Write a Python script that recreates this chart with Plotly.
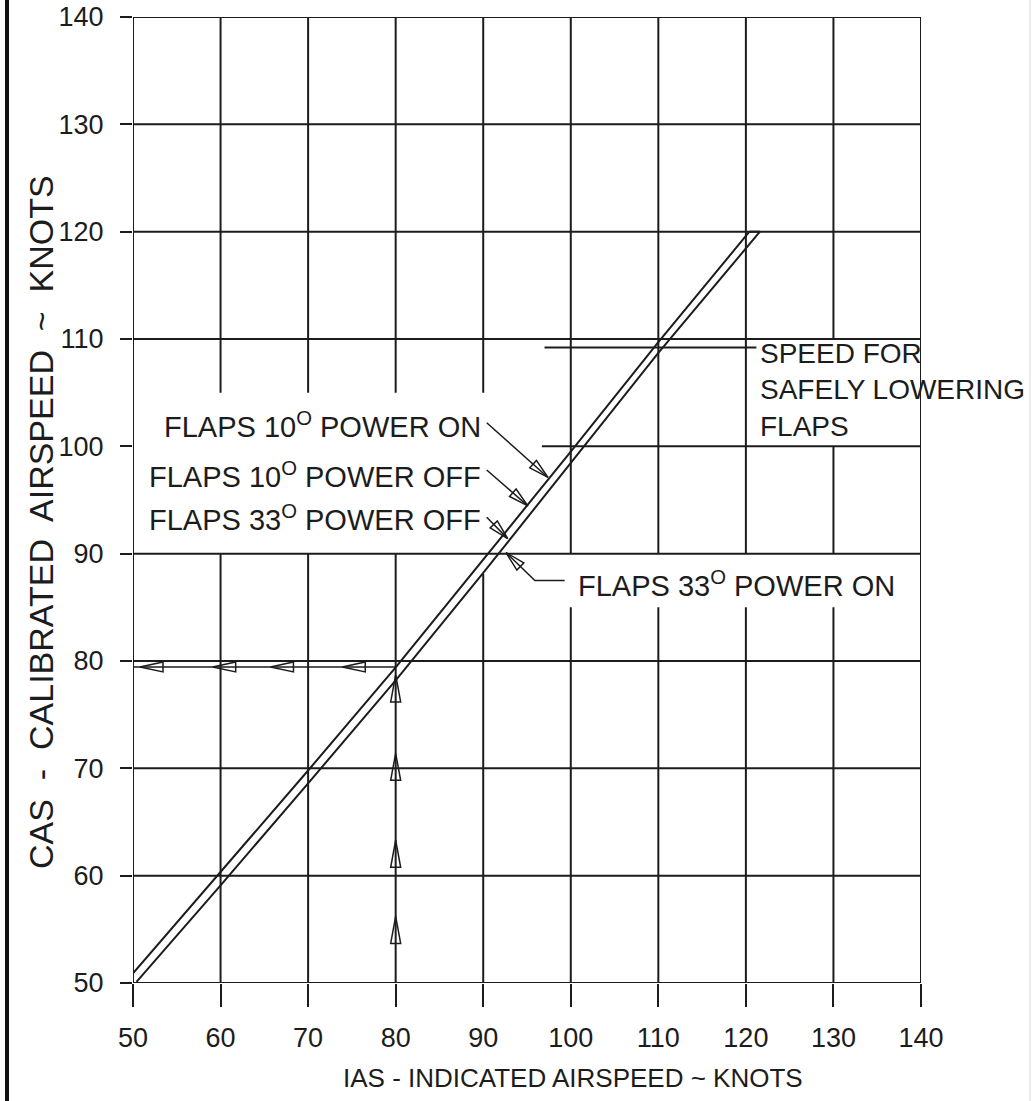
import plotly.graph_objects as go

# ---------------- data ----------------
ias_ticks = [50, 60, 70, 80, 90, 100, 110, 120, 130, 140]
cas_ticks = [50, 60, 70, 80, 90, 100, 110, 120, 130, 140]

# calibration curves (two parallel traces of the double line)
line_a_ias = [50.0, 60.0, 70.0, 80.0, 90.0, 100.0, 110.0, 120.4]
line_a_cas = [50.9, 60.3, 69.8, 79.4, 89.4, 99.5, 109.7, 120.0]
line_b_ias = [50.4, 60.0, 70.0, 80.0, 90.0, 100.0, 110.0, 121.6]
line_b_cas = [50.1, 59.1, 68.6, 78.2, 88.2, 98.4, 108.7, 120.0]

# example: IAS 80 -> CAS 79.4
example_ias = 80.0
example_cas = 79.45
h_arrow_tips_ias = [50.8, 59.1, 65.7, 73.9]
v_arrow_tips_cas = [56.2, 63.3, 71.4, 78.7]

# speed for safely lowering flaps
flap_speed_cas = 109.2

label_texts = [
    "FLAPS 10<sup>O</sup> POWER ON",
    "FLAPS 10<sup>O</sup> POWER OFF",
    "FLAPS 33<sup>O</sup> POWER OFF",
]
label_cas = [102.0, 97.3, 93.3]
leader_tail_ias = [90.4, 90.4, 90.4]
leader_tail_cas = [102.2, 97.8, 93.4]
leader_tip_ias = [97.4, 95.1, 92.8]
leader_tip_cas = [97.1, 94.45, 91.4]

on33_text = "FLAPS 33<sup>O</sup> POWER ON"
on33_path_ias = [99.3, 95.9, 92.6]
on33_path_cas = [87.5, 87.5, 90.1]

speed_text = "SPEED FOR<br>SAFELY LOWERING<br>FLAPS"

x_title = "IAS - INDICATED AIRSPEED ~ KNOTS"
y_title = "CAS\u00a0 -\u00a0 CALIBRATED\u00a0 AIRSPEED\u00a0 ~\u00a0 KNOTS"

# ---------------- layout geometry ----------------
W, H = 1035, 1101
ML, MR, MT, MB = 133, 114, 17, 118
XR = [50, 140]
YR = [50, 140]
PW = W - ML - MR
PH = H - MT - MB
SX = PW / (XR[1] - XR[0])
SY = PH / (YR[1] - YR[0])

INK = "#1c1c1c"
FONT = "Liberation Sans, Arial, sans-serif"

# visible gridline segments (gaps where the labels sit)
v_segments = {
    50: [(50, 140)],
    60: [(50, 90), (105, 140)],
    70: [(50, 90), (105, 140)],
    80: [(50, 90), (105, 140)],
    90: [(50, 88.1), (105, 140)],
    100: [(50, 85.0), (90, 140)],
    110: [(50, 85.0), (90, 140)],
    120: [(50, 85.0), (90, 140)],
    130: [(50, 85.0), (90, 100), (110, 140)],
    140: [(50, 140)],
}
h_segments = {c: [(50, 140)] for c in cas_ticks}
h_segments[100] = [(96.7, 140)]

fig = go.Figure()

shapes = []
for v, segs in v_segments.items():
    for a, b in segs:
        shapes.append(dict(type="line", xref="x", yref="y", x0=v, x1=v, y0=a, y1=b,
                           line=dict(color=INK, width=2), layer="below"))
for c, segs in h_segments.items():
    for a, b in segs:
        shapes.append(dict(type="line", xref="x", yref="y", x0=a, x1=b, y0=c, y1=c,
                           line=dict(color=INK, width=2), layer="below"))

# flap speed leader line
shapes.append(dict(type="line", xref="x", yref="y", x0=97.0, x1=121.2,
                   y0=flap_speed_cas, y1=flap_speed_cas, line=dict(color=INK, width=2)))

# page borders (scan edges)
shapes.append(dict(type="line", xref="paper", yref="paper", x0=(7 - ML) / PW,
                   x1=(7 - ML) / PW, y0=-MB / PH, y1=1 + MT / PH,
                   line=dict(color="#111", width=4)))
shapes.append(dict(type="line", xref="paper", yref="paper", x0=(1030 - ML) / PW,
                   x1=(1030 - ML) / PW, y0=-MB / PH, y1=1 + MT / PH,
                   line=dict(color="#d8d8d8", width=1)))

# calibration double line
fig.add_trace(go.Scatter(x=line_a_ias, y=line_a_cas, mode="lines",
                         line=dict(color=INK, width=2), hoverinfo="skip", showlegend=False))
fig.add_trace(go.Scatter(x=line_b_ias, y=line_b_cas, mode="lines",
                         line=dict(color=INK, width=2), hoverinfo="skip", showlegend=False))
fig.add_trace(go.Scatter(x=[line_a_ias[-1], line_b_ias[-1]], y=[line_a_cas[-1], line_b_cas[-1]],
                         mode="lines", line=dict(color=INK, width=2), hoverinfo="skip", showlegend=False))

# example path
fig.add_trace(go.Scatter(x=[XR[0], example_ias], y=[example_cas, example_cas], mode="lines",
                         line=dict(color=INK, width=1.5), hoverinfo="skip", showlegend=False))


def triangle(tx, ty, ux, uy, length, half):
    """open arrowhead; tip (tx,ty) in data; (ux,uy) pointing direction in pixels (y up)."""
    n = (ux * ux + uy * uy) ** 0.5
    ux, uy = ux / n, uy / n
    bx, by = -ux * length, -uy * length
    px, py = -uy * half, ux * half
    xs = [tx, tx + (bx + px) / SX, tx + (bx - px) / SX, tx]
    ys = [ty, ty + (by + py) / SY, ty + (by - py) / SY, ty]
    return xs, ys


def add_tri(xs, ys, w=1.5):
    fig.add_trace(go.Scatter(x=xs, y=ys, mode="lines", line=dict(color=INK, width=w),
                             hoverinfo="skip", showlegend=False))


for t in h_arrow_tips_ias:
    add_tri(*triangle(t, example_cas, -1, 0, 23, 5))
for t in v_arrow_tips_cas:
    add_tri(*triangle(example_ias, t, 0, 1, 27, 5))

for tx0, ty0, tx1, ty1 in zip(leader_tail_ias, leader_tail_cas, leader_tip_ias, leader_tip_cas):
    fig.add_trace(go.Scatter(x=[tx0, tx1], y=[ty0, ty1], mode="lines",
                             line=dict(color=INK, width=1.5), hoverinfo="skip", showlegend=False))
    add_tri(*triangle(tx1, ty1, (tx1 - tx0) * SX, (ty1 - ty0) * SY, 20, 5))

fig.add_trace(go.Scatter(x=on33_path_ias, y=on33_path_cas, mode="lines",
                         line=dict(color=INK, width=1.5), hoverinfo="skip", showlegend=False))
add_tri(*triangle(on33_path_ias[-1], on33_path_cas[-1],
                  (on33_path_ias[-1] - on33_path_ias[-2]) * SX,
                  (on33_path_cas[-1] - on33_path_cas[-2]) * SY, 20, 5))

annotations = []
for txt, c in zip(label_texts, label_cas):
    annotations.append(dict(x=90.0, y=c, xref="x", yref="y", text=txt, showarrow=False,
                            xanchor="right", yanchor="middle",
                            font=dict(family=FONT, size=29, color=INK)))
annotations.append(dict(x=100.6, y=87.2, xref="x", yref="y", text=on33_text, showarrow=False,
                        xanchor="left", yanchor="middle",
                        font=dict(family=FONT, size=29, color=INK)))
annotations.append(dict(x=121.4, y=flap_speed_cas + 1.1, xref="x", yref="y", text=speed_text,
                        showarrow=False, xanchor="left", yanchor="top", align="left",
                        font=dict(family=FONT, size=28, color=INK)))
annotations.append(dict(x=(573 - ML) / PW, y=-(1078 - (H - MB)) / PH,
                        xref="paper", yref="paper", text=x_title, showarrow=False,
                        xanchor="center", yanchor="middle",
                        font=dict(family=FONT, size=26, color=INK)))
annotations.append(dict(x=(41 - ML) / PW, y=((H - MB) - 522) / PH,
                        xref="paper", yref="paper", text=y_title, showarrow=False, textangle=-90,
                        xanchor="center", yanchor="middle",
                        font=dict(family=FONT, size=34, color=INK)))

fig.update_layout(
    width=W, height=H,
    margin=dict(l=ML, r=MR, t=MT, b=MB, autoexpand=False),
    paper_bgcolor="white", plot_bgcolor="white",
    shapes=shapes, annotations=annotations,
    xaxis=dict(range=XR, tickvals=ias_ticks, showgrid=False, zeroline=False, showline=False,
               ticks="outside", ticklen=23, tickwidth=2, tickcolor=INK, ticklabelstandoff=8,
               ticklabeloverflow="allow",
               tickfont=dict(family=FONT, size=27, color=INK), fixedrange=True),
    yaxis=dict(range=YR, tickvals=cas_ticks, showgrid=False, zeroline=False, showline=False,
               ticks="outside", ticklen=12, tickwidth=2, tickcolor=INK, ticklabelstandoff=11,
               ticklabeloverflow="allow",
               tickfont=dict(family=FONT, size=27, color=INK), fixedrange=True),
)

fig.write_html("out.html", config={"displayModeBar": False},
               post_script="document.body.style.margin='0px';")
